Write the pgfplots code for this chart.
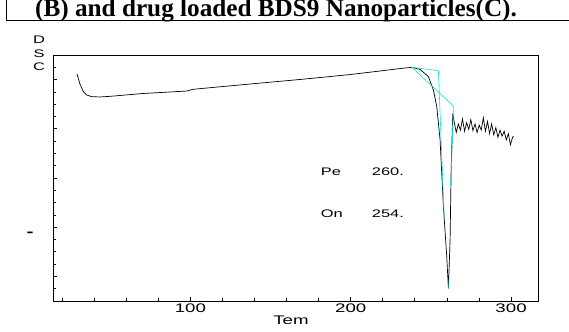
\documentclass[border=0pt]{standalone}
\usepackage{pgfplots}
\pgfplotsset{compat=1.18}
\usepackage{fontspec}
\newfontfamily\chartfont[FakeStretch=1.5]{Liberation Sans}
\newfontfamily\titlefont{Liberation Serif}
\definecolor{dsccyan}{RGB}{0,230,235}
\begin{document}
\begin{tikzpicture}[x=1bp,y=1bp]
\useasboundingbox (0,0) rectangle (569,331);
\clip (0,0) rectangle (569,331);
\node[anchor=base west, inner sep=0pt] at (35,315) {\titlefont\bfseries\fontsize{25.3}{30}\selectfont (B) and drug loaded BDS9 Nanoparticles(C).};
\draw[line width=1bp] (6.5,335) -- (6.5,310) -- (575,310);
\begin{axis}[
  at={(53bp,30bp)}, anchor=south west,
  width=485bp, height=246bp, scale only axis,
  xmin=14.3, xmax=316.8, ymin=0, ymax=20,
  axis line style={line width=0.9bp, black},
  tick style={black, line width=0.8bp},
  xtick={100,200,300}, xticklabels={100,200,300},
  minor xtick={20,40,60,80,120,140,160,180,220,240,260,280},
  ytick={2,6,10,14,18}, yticklabels={},
  minor ytick={1,3,4,5,7,8,9,11,12,13,15,16,17,19},
  tick align=inside,
  xtick pos=bottom, ytick pos=left,
  major tick length=4bp, minor tick length=3bp,
  xticklabel style={font=\chartfont\fontsize{12.5}{14}\selectfont, inner sep=0pt, yshift=-2.3bp},
]
\addplot[black, line width=0.7bp] coordinates {
(29.27,18.46) (30.2,18.05) (31.1,17.64) (33.2,17.02) (35.3,16.75) (38.4,16.61)
(43.6,16.59) (49.9,16.64) (70.4,16.87) (97.7,17.07) (101.6,17.21) (112.2,17.34)
(137.2,17.64) (168.4,18.01) (199.6,18.41) (218.3,18.7) (230.8,18.9) (238.05,19.0)
(243.25,18.83) (248.45,18.24) (251.56,17.15) (253.64,15.80) (255.72,13.09)
(257.8,7.67) (259.88,3.6) (260.92,1.03) (261.96,4.96) (262.58,10.38) (263.62,15.26)
(264.5,14.58) (265.8,13.7) (267.1,14.4) (268.4,13.9) (269.7,14.8) (271.0,13.8)
(272.3,14.5) (273.6,13.95) (274.9,14.75) (276.2,13.85) (277.5,14.4) (278.8,13.7)
(280.1,14.3) (281.4,13.9) (282.7,14.9) (284.0,13.8) (285.3,14.6) (286.6,13.6)
(287.9,14.4) (289.2,13.5) (290.5,14.1) (291.8,13.3) (293.1,13.9) (294.4,13.4)
(295.7,13.8) (297.0,13.1) (298.3,13.6) (299.6,12.7) (300.9,13.3) (301.5,13.4)
};
\addplot[dsccyan, line width=0.6bp] coordinates {(238.05,19.0) (254.68,18.73) (258.22,6.99)};
\addplot[dsccyan, line width=0.6bp] coordinates {(238.05,19.0) (264.04,15.85) (262.37,9.3)};
\addplot[dsccyan, line width=0.6bp] coordinates {(260.6,1.8) (260.92,1.03)};
\end{axis}
\begin{scope}[every node/.style={inner sep=0pt}]
\node[anchor=center] at (39,291) {\chartfont\fontsize{11}{13}\selectfont D};
\node[anchor=center] at (39,277.5) {\chartfont\fontsize{11}{13}\selectfont S};
\node[anchor=center] at (39,264) {\chartfont\fontsize{11}{13}\selectfont C};
\node[anchor=center] at (30,97) {\chartfont\bfseries\fontsize{14}{16}\selectfont -};
\node[anchor=base] at (291,7) {\chartfont\fontsize{12.5}{14}\selectfont Tem};
\node[anchor=base west] at (320.7,155.7) {\chartfont\fontsize{11}{13}\selectfont Pe};
\node[anchor=base west] at (371.7,155.7) {\chartfont\fontsize{11}{13}\selectfont 260.};
\node[anchor=base west] at (320.7,113.7) {\chartfont\fontsize{11}{13}\selectfont On};
\node[anchor=base west] at (371.7,113.7) {\chartfont\fontsize{11}{13}\selectfont 254.};
\end{scope}
\end{tikzpicture}
\end{document}
